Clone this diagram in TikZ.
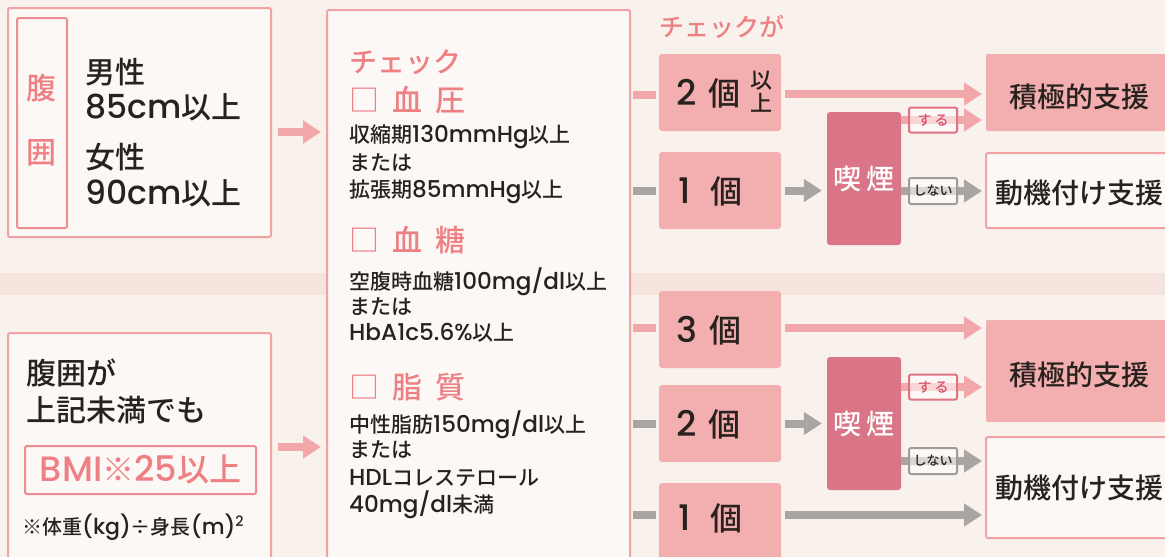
\documentclass[tikz,border=0pt]{standalone}
\usepackage{fontspec}
\setmainfont{Noto Sans CJK JP}
\newfontfamily\jpm{Noto Sans CJK JP Medium}
\newfontfamily\lamd{Poppins Medium}[Scale=1.1]
\newcommand\LA[1]{{\lamd #1}}
\newcommand\ONE{{\lamd\makebox[0pt][l]{1}\phantom{2}}}
\usetikzlibrary{arrows.meta}
\definecolor{bgc}{HTML}{F8F1EC}
\definecolor{bandc}{HTML}{F5E4DD}
\definecolor{bpink}{HTML}{F1A2A2}
\definecolor{boxw}{HTML}{FCF8F6}
\definecolor{cntp}{HTML}{F3AEAF}
\definecolor{rose}{HTML}{D97587}
\definecolor{ptxt}{HTML}{EE8084}
\definecolor{arrp}{HTML}{F2A8AA}
\definecolor{arrg}{HTML}{A8A5A2}
\definecolor{dtxt}{HTML}{28221F}
\definecolor{redt}{HTML}{D9506A}
\definecolor{redb}{HTML}{E07284}
\definecolor{grayb}{HTML}{9E9B98}
\newcommand\FS[1]{\fontsize{#1pt}{#1pt}\selectfont}
\tikzset{
  pbox/.style={draw=bpink, line width=2pt, fill=boxw, rounded corners=2pt, inner sep=0pt},
  cnt/.style={fill=cntp, rounded corners=3pt, minimum width=122pt, minimum height=77pt, inner sep=0pt},
  smk/.style={fill=rose, rounded corners=3pt, minimum width=74pt, minimum height=133pt, inner sep=0pt,
              text=white, font=\FS{28}\jpm},
  txt/.style={inner sep=0pt, text=dtxt},
  big/.style={txt, anchor=west, font=\FS{30}\jpm},
  small/.style={txt, anchor=west, font=\FS{21}\jpm},
  phead/.style={inner sep=0pt, anchor=west, text=ptxt, font=\FS{30}\jpm},
  cnum/.style={txt, anchor=west, font=\FS{32}\jpm},
  res/.style={txt, font=\FS{28}\jpm},
  parr/.style={draw=arrp, line width=8pt, -{Triangle[length=18pt,width=22pt]}},
  garr/.style={draw=arrg, line width=8pt, -{Triangle[length=18pt,width=22pt]}},
  pstub/.style={draw=arrp, line width=8pt},
  gstub/.style={draw=arrg, line width=8pt},
  yeslbl/.style={draw=redb, line width=2pt, fill=white, fill opacity=0.55, text opacity=1, draw opacity=1,
                 rounded corners=2pt, minimum width=48pt, minimum height=25pt, inner sep=0pt,
                 text=redt, font=\FS{14}\jpm},
  nolbl/.style={draw=grayb, line width=2pt, fill=white, fill opacity=0.55, text opacity=1, draw opacity=1,
                rounded corners=2pt, minimum width=48pt, minimum height=26pt, inner sep=0pt,
                text=dtxt, font=\FS{13}\jpm}
}
\begin{document}
\begin{tikzpicture}[x=1pt,y=-1pt]
\useasboundingbox (0,0) rectangle (1165,557);
\fill[bgc] (0,0) rectangle (1165,557);
\fill[bandc] (0,273) rectangle (1165,295);

% ---- left column
\node[pbox, minimum width=263pt, minimum height=229pt] (box1) at (139.5,122.5) {};
\node[pbox, draw=ptxt!90, minimum width=50pt, minimum height=210pt] (fkbox) at (42,123) {};
\node[inner sep=0pt, text=ptxt, font=\FS{30}\jpm] (fk1) at (42,88) {腹};
\node[inner sep=0pt, text=ptxt, font=\FS{30}\jpm] (fk2) at (42,153) {囲};
\node[big] (t1) at (85,72) {男性};
\node[big] (t2) at (85,107) {\LA{85cm}以上};
\node[big] (t3) at (85,157) {女性};
\node[big] (t4) at (85,193) {\LA{90cm}以上};

\node[pbox, minimum width=263pt, minimum height=240pt] (box2) at (139.5,453) {};
\node[big] (u1) at (26,373) {腹囲が};
\node[big] (u2) at (26,410) {上記未満でも};
\node[pbox, draw=ptxt!90, minimum width=231pt, minimum height=48pt, text=ptxt, font=\FS{32}\jpm] (bmi) at (140.5,470) {\LA{BMI}※\LA{25}以上};
\node[small, font=\FS{20}\jpm] (u3) at (22,527) {※体重\LA{(kg)}÷身長\LA{(m)}\raisebox{8pt}{\FS{13}\LA{2}}};

% ---- check list
\node[pbox, minimum width=303pt, minimum height=560pt] (box3) at (478.5,290) {};
\node[phead, font=\FS{28}\jpm] (chk) at (349,62) {チェック};
\node[phead] (h1) at (349,100) {□\hspace{13pt}血\hspace{13pt}圧};
\node[small] (h1a) at (349,137) {収縮期\LA{130mmHg}以上};
\node[small] (h1b) at (349,163) {または};
\node[small] (h1c) at (349,192) {拡張期\LA{85mmHg}以上};
\node[phead] (h2) at (349,240) {□\hspace{13pt}血\hspace{13pt}糖};
\node[small] (h2a) at (349,282) {空腹時血糖\LA{100mg/dl}以上};
\node[small] (h2b) at (349,307) {または};
\node[small] (h2c) at (349,333) {\LA{HbA1c5.6\%}以上};
\node[phead] (h3) at (349,387) {□\hspace{13pt}脂\hspace{13pt}質};
\node[small] (h3a) at (349,425) {中性脂肪\LA{150mg/dl}以上};
\node[small] (h3b) at (349,450) {または};
\node[small] (h3c) at (349,478) {\LA{HDL}コレステロール};
\node[small] (h3d) at (349,505) {\LA{40mg/dl}未満};

% ---- counts
\node[phead, font=\FS{25}\jpm] (chk2) at (659,27) {チェックが};
\node[cnt] (c2up) at (720,92.5) {};
\node[cnt] (c1a) at (720,190.5) {};
\node[cnt] (c3) at (720,329.5) {};
\node[cnt] (c2) at (720,423.5) {};
\node[cnt] (c1b) at (720,521.5) {};
\node[cnum] (n2up) at (676,93) {\LA{2}\hspace{12pt}個};
\node[txt, align=center, font=\fontsize{22pt}{23pt}\selectfont\jpm] (ijo) at (761,91.5) {以\\上};
\node[cnum] (n1a) at (678,191) {\ONE\hspace{12pt}個};
\node[cnum] (n3) at (676,330) {\LA{3}\hspace{12pt}個};
\node[cnum] (n2) at (676,424) {\LA{2}\hspace{12pt}個};
\node[cnum] (n1b) at (678,518) {\ONE\hspace{12pt}個};

% ---- smoking
\node[smk] (s1) at (864,178.5) {喫\hspace{5pt}煙};
\node[smk] (s2) at (864,423.5) {喫\hspace{5pt}煙};

% ---- results
\node[pbox, draw=none, fill=cntp, minimum width=200pt, minimum height=77pt] (a1) at (1086,92.5) {};
\node[pbox, minimum width=200pt, minimum height=75pt] (m1) at (1086,190.5) {};
\node[pbox, draw=none, fill=cntp, minimum width=200pt, minimum height=102pt] (a2) at (1086,371) {};
\node[pbox, minimum width=200pt, minimum height=101pt] (m2) at (1086,487.5) {};
\node[res] (ra1) at (1079,97) {積極的支援};
\node[res] (rm1) at (1079,193) {動機付け支援};
\node[res] (ra2) at (1079,375) {積極的支援};
\node[res] (rm2) at (1079,488) {動機付け支援};

% ---- connectors
\coordinate (a1s) at ([yshift=-9.5pt]box1.east);
\coordinate (a2s) at ([yshift=6pt]box2.east);
\draw[parr, shorten <=6pt, shorten >=5pt] (a1s) -- (box3.west |- a1s);
\draw[parr, shorten <=6pt, shorten >=5pt] (a2s) -- (box3.west |- a2s);

\coordinate (c2ups) at ([yshift=-2pt]c2up.west);
\draw[pstub, shorten <=2pt, shorten >=3pt] (box3.east |- c2ups) -- (c2ups);
\draw[gstub, shorten <=2pt, shorten >=3pt] (box3.east |- c1a.west) -- (c1a.west);
\coordinate (c3s) at ([yshift=1.5pt]c3.west);
\draw[pstub, shorten <=2pt, shorten >=3pt] (box3.east |- c3s) -- (c3s);
\draw[gstub, shorten <=2pt, shorten >=3pt] (box3.east |- c2.west) -- (c2.west);
\coordinate (c1bs) at ([yshift=7pt]c1b.west);
\draw[gstub, shorten <=2pt, shorten >=3pt] (box3.east |- c1bs) -- (c1bs);

\coordinate (c2upe) at ([yshift=-1.5pt]c2up.east);
\draw[parr, shorten <=4pt, shorten >=3pt] (c2upe) -- (a1.west |- c2upe);
\draw[garr, shorten <=4pt, shorten >=5pt] (c1a.east) -- (s1.west |- c1a.east);
\coordinate (c3e) at ([yshift=1.5pt]c3.east);
\draw[parr, shorten <=4pt, shorten >=3pt] (c3e) -- (a2.west |- c3e);
\draw[garr, shorten <=4pt, shorten >=5pt] (c2.east) -- (s2.west |- c2.east);
\coordinate (c1be) at ([yshift=6.5pt]c1b.east);
\draw[garr, shorten <=4pt, shorten >=3pt] (c1be) -- (m2.west |- c1be);

\coordinate (l1p) at (933,120);
\coordinate (l2p) at (933,191);
\coordinate (l3p) at (933,387);
\coordinate (l4p) at (933,461);
\draw[parr, shorten >=3pt] (s1.east |- l1p) -- (a1.west |- l1p);
\draw[garr, shorten >=3pt] (s1.east |- l2p) -- (m1.west |- l2p);
\draw[parr, shorten >=3pt] (s2.east |- l3p) -- (a2.west |- l3p);
\draw[garr, shorten >=3pt] (s2.east |- l4p) -- (m2.west |- l4p);
\node[yeslbl] (l1) at (l1p) {す\hspace{3pt}る};
\node[nolbl] (l2) at (l2p) {しない};
\node[yeslbl] (l3) at (l3p) {す\hspace{3pt}る};
\node[nolbl] (l4) at (l4p) {しない};
\end{tikzpicture}
\end{document}
